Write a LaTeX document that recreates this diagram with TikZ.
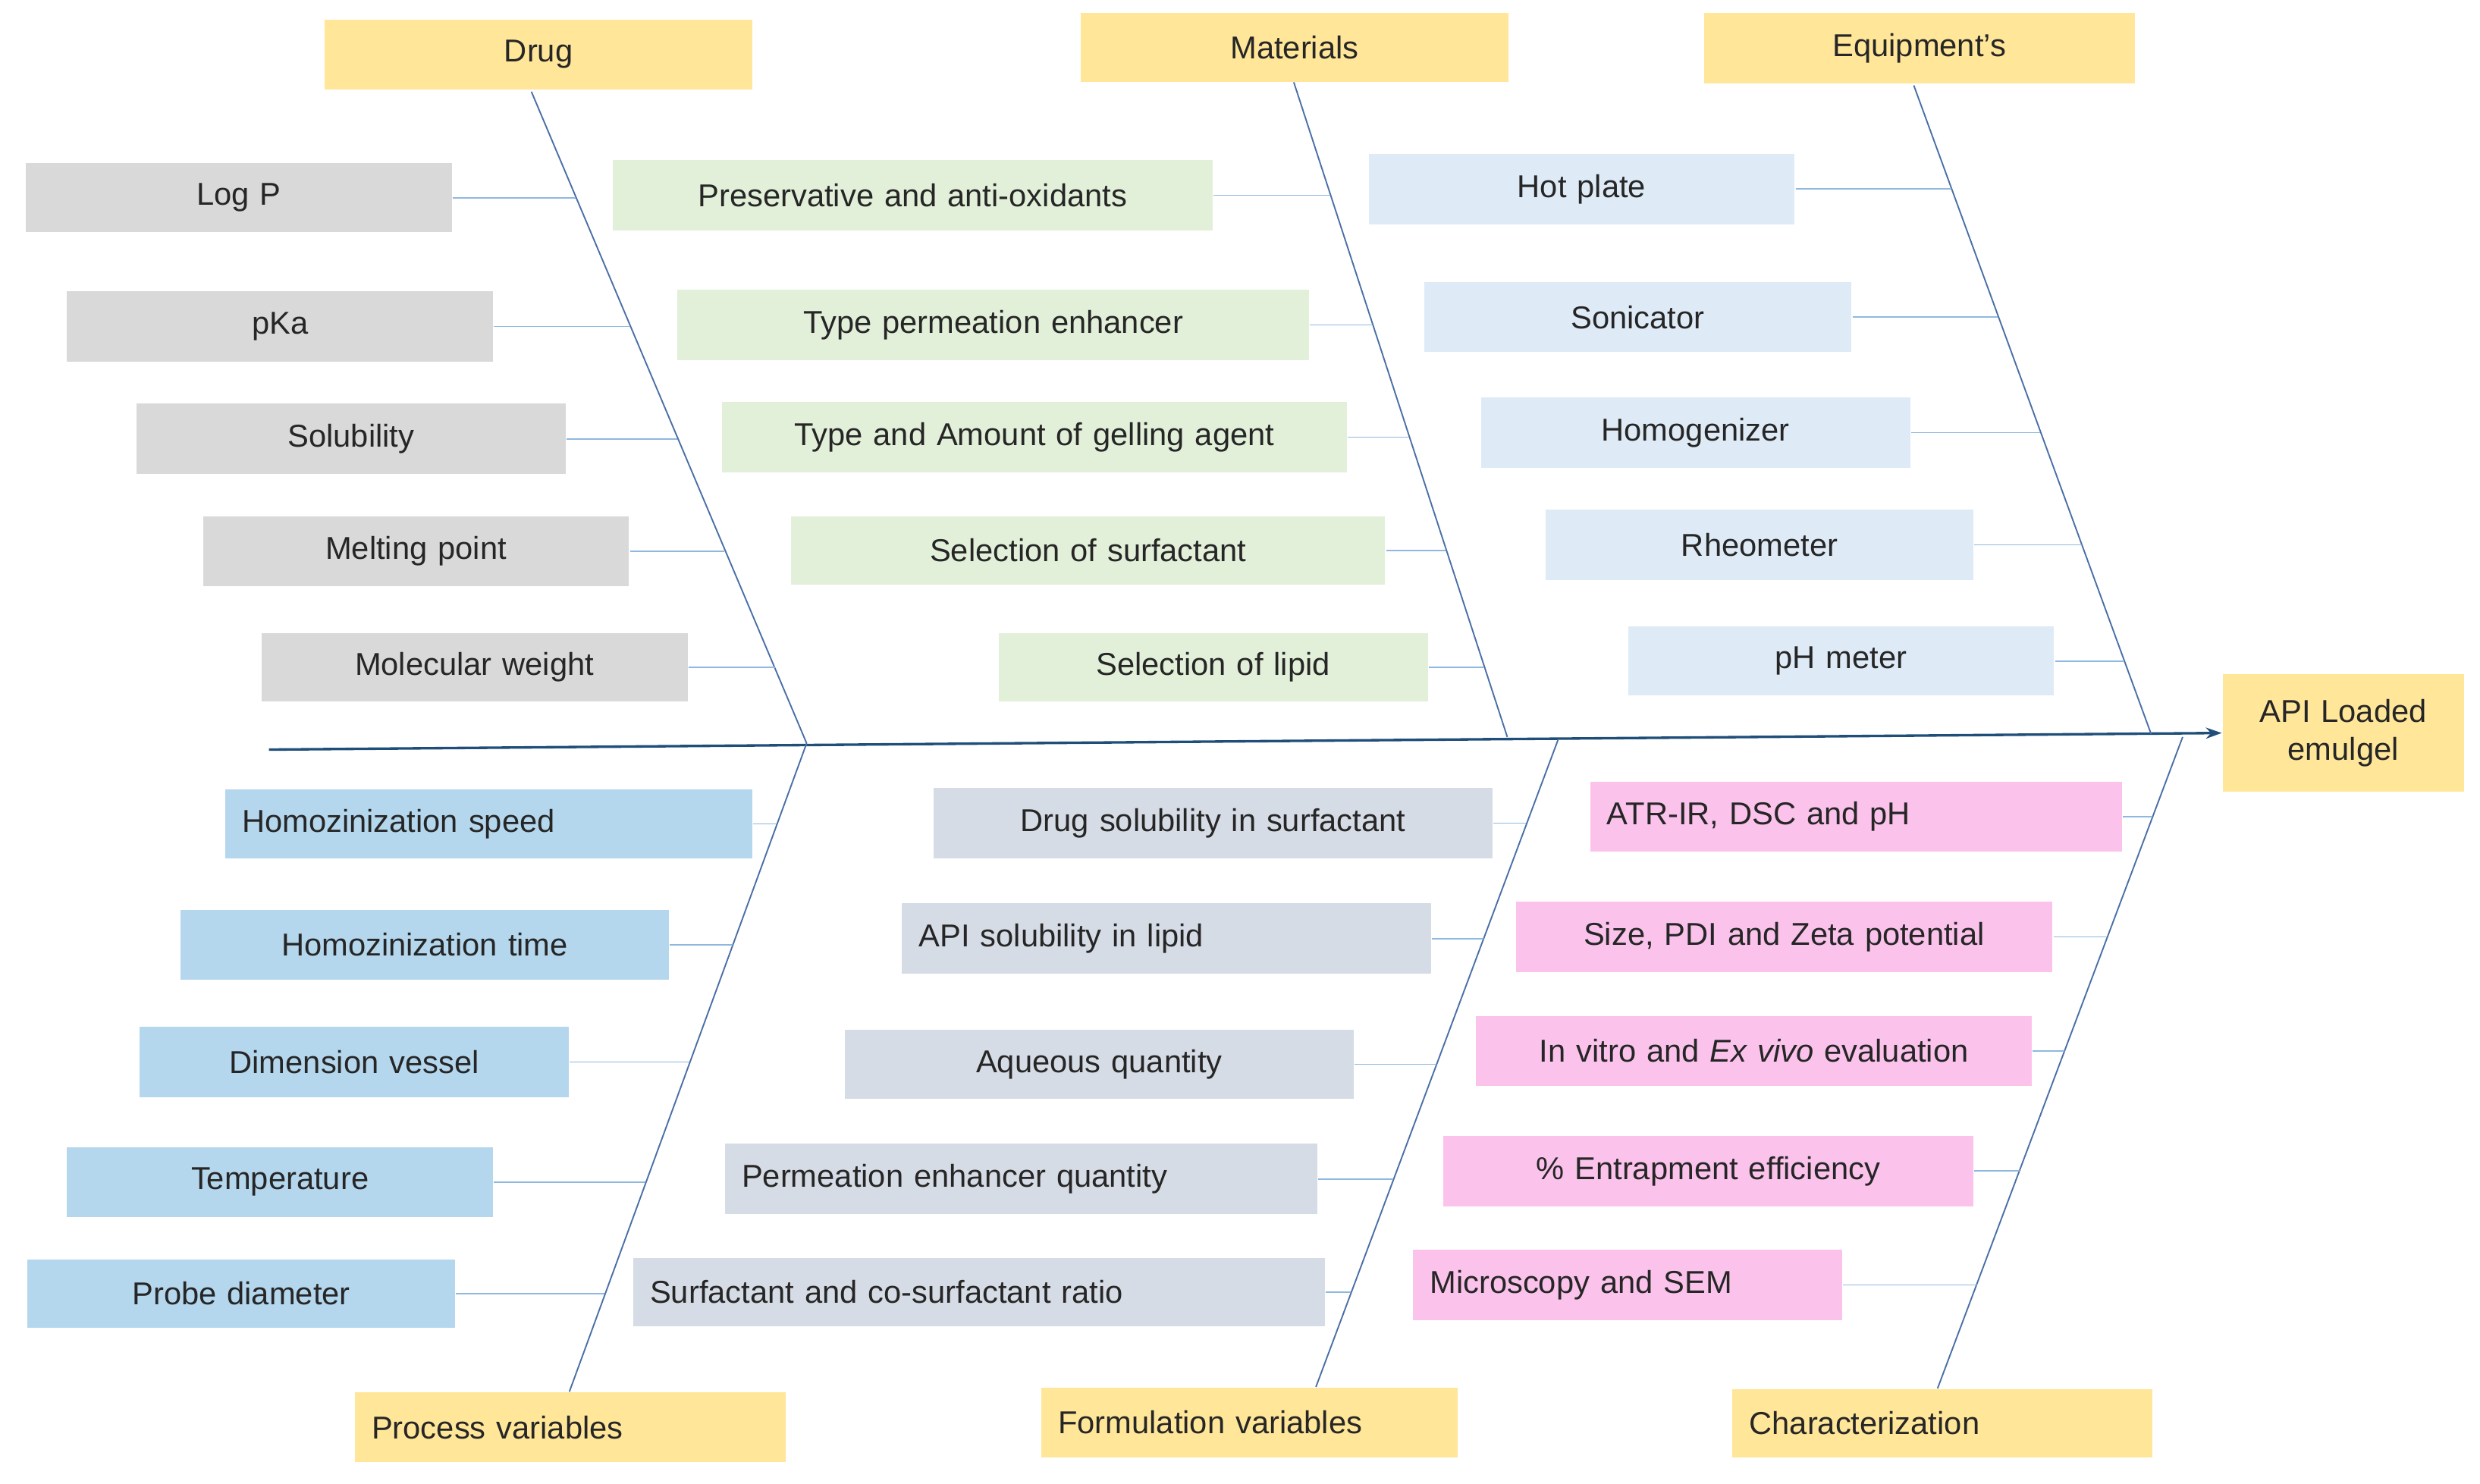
\documentclass[tikz,border=0pt]{standalone}
\usepackage{fontspec}
\setmainfont{Liberation Sans}
\usetikzlibrary{arrows.meta}
\definecolor{cg}{HTML}{D9D9D9}
\definecolor{cgr}{HTML}{E2F0D9}
\definecolor{clb}{HTML}{DEEBF7}
\definecolor{cbl}{HTML}{B4D7EE}
\definecolor{cfv}{HTML}{D6DCE5}
\definecolor{cpk}{HTML}{FBC3EC}
\definecolor{cyl}{HTML}{FFE699}
\definecolor{bone}{HTML}{4A6FA5}
\definecolor{spine}{HTML}{1F4E79}
\definecolor{conn}{HTML}{8FB8DE}
\newcommand\BX[8]{\pgfmathsetmacro\bw{#5-#3}\pgfmathsetmacro\bh{#6-#4}\pgfmathsetmacro\tw{#5-#3-22}\pgfmathsetmacro\cx{(#3+#5)/2}\pgfmathsetmacro\cy{(#4+#6)/2}\node[bx,fill=#1,minimum width=\bw pt,minimum height=\bh pt,text width=\tw pt,align=#8] (#2) at (\cx,\cy) {#7};}
\newcommand\CN[2]{\coordinate (#1c) at (#2,0); \draw[cn] (#1.east) -- (#1.east -| #1c);}
\begin{document}
\begin{tikzpicture}[x=1pt,y=-1pt,
 bx/.style={draw=white,line width=0.6pt,inner xsep=11pt,inner ysep=0pt,font=\fontsize{20}{24}\selectfont,text=black!85},
 cn/.style={draw=conn,line width=0.8pt},
 bn/.style={draw=bone,line width=0.9pt}]
\useasboundingbox (0,0) rectangle (1568,938);
% heads
\BX{cyl}{drug}{205}{12}{476}{57}{Drug}{center}
\BX{cyl}{mat}{683}{8}{954}{52}{Materials}{center}
\BX{cyl}{eq}{1077}{8}{1350}{53}{Equipment’s}{center}
\BX{cyl}{pv}{224}{880}{497}{925}{Process variables}{left}
\BX{cyl}{fv}{658}{877}{922}{922}{Formulation variables}{left}
\BX{cyl}{ch}{1095}{878}{1361}{922}{Characterization}{left}
\BX{cyl}{api}{1405}{426}{1558}{501}{API Loaded\\emulgel}{center}
% bones
\coordinate (s0) at (170,474);
\coordinate (j1) at (510,470);
\coordinate (j2) at (953,466);
\coordinate (j3) at (985,468);
\coordinate (j4) at (1360,464);
\coordinate (j5) at (1380,466);
\draw[draw=spine,line width=1.6pt,-{Stealth[length=10pt,width=7pt]}] (s0) -- (api.west);
\draw[bn] (336,58) -- (j1);
\draw[bn] (818,52) -- (j2);
\draw[bn] (1210,54) -- (j4);
\draw[bn] (j1) -- (360,880);
\draw[bn] (j3) -- (832,877);
\draw[bn] (j5) -- (1225,878);
% drug
\BX{cg}{a1}{16}{103}{286}{147}{Log P}{center}
\BX{cg}{a2}{42}{184}{312}{229}{pKa}{center}
\BX{cg}{a3}{86}{255}{358}{300}{Solubility}{center}
\BX{cg}{a4}{128}{326}{398}{371}{Melting point}{center}
\BX{cg}{a5}{165}{400}{435}{444}{Molecular weight}{center}
\CN{a1}{364}\CN{a2}{398}\CN{a3}{428}\CN{a4}{458}\CN{a5}{490}
% materials
\BX{cgr}{b1}{387}{101}{767}{146}{Preservative and anti-oxidants}{center}
\BX{cgr}{b2}{428}{183}{828}{228}{Type permeation enhancer}{center}
\BX{cgr}{b3}{456}{254}{852}{299}{Type and Amount of gelling agent}{center}
\BX{cgr}{b4}{500}{326}{876}{370}{Selection of surfactant}{center}
\BX{cgr}{b5}{631}{400}{903}{444}{Selection of lipid}{center}
\CN{b1}{841}\CN{b2}{868}\CN{b3}{891}\CN{b4}{914}\CN{b5}{938}
% equipment
\BX{clb}{c1}{865}{97}{1135}{142}{Hot plate}{center}
\BX{clb}{c2}{900}{178}{1171}{223}{Sonicator}{center}
\BX{clb}{c3}{936}{251}{1208}{296}{Homogenizer}{center}
\BX{clb}{c4}{977}{322}{1248}{367}{Rheometer}{center}
\BX{clb}{c5}{1029}{396}{1299}{440}{pH meter}{center}
\CN{c1}{1234}\CN{c2}{1263}\CN{c3}{1290}\CN{c4}{1316}\CN{c5}{1343}
% process
\BX{cbl}{d1}{142}{499}{476}{543}{Homozinization speed}{left}
\BX{cbl}{d2}{114}{575}{423}{620}{Homozinization time}{center}
\BX{cbl}{d3}{88}{649}{360}{694}{Dimension vessel}{center}
\BX{cbl}{d4}{42}{725}{312}{770}{Temperature}{center}
\BX{cbl}{d5}{17}{796}{288}{840}{Probe diameter}{center}
\CN{d1}{491}\CN{d2}{463}\CN{d3}{436}\CN{d4}{408}\CN{d5}{382}
% formulation
\BX{cfv}{e1}{590}{498}{944}{543}{Drug solubility in surfactant}{center}
\BX{cfv}{e2}{570}{571}{905}{616}{API solubility in lipid}{left}
\BX{cfv}{e3}{534}{651}{856}{695}{Aqueous quantity}{center}
\BX{cfv}{e4}{458}{723}{833}{768}{Permeation enhancer quantity}{left}
\BX{cfv}{e5}{400}{795}{838}{839}{Surfactant and co-surfactant ratio}{left}
\CN{e1}{965}\CN{e2}{938}\CN{e3}{908}\CN{e4}{881}\CN{e5}{854}
% characterization
\BX{cpk}{f1}{1005}{494}{1342}{539}{ATR-IR, DSC and pH}{left}
\BX{cpk}{f2}{958}{570}{1298}{615}{Size, PDI and Zeta potential}{center}
\BX{cpk}{f3}{933}{642}{1285}{687}{In vitro and \textit{Ex vivo} evaluation}{center}
\BX{cpk}{f4}{912}{718}{1248}{763}{\% Entrapment efficiency}{center}
\BX{cpk}{f5}{893}{790}{1165}{835}{Microscopy and SEM}{left}
\CN{f1}{1361}\CN{f2}{1332}\CN{f3}{1305}\CN{f4}{1277}\CN{f5}{1250}
\end{tikzpicture}
\end{document}
